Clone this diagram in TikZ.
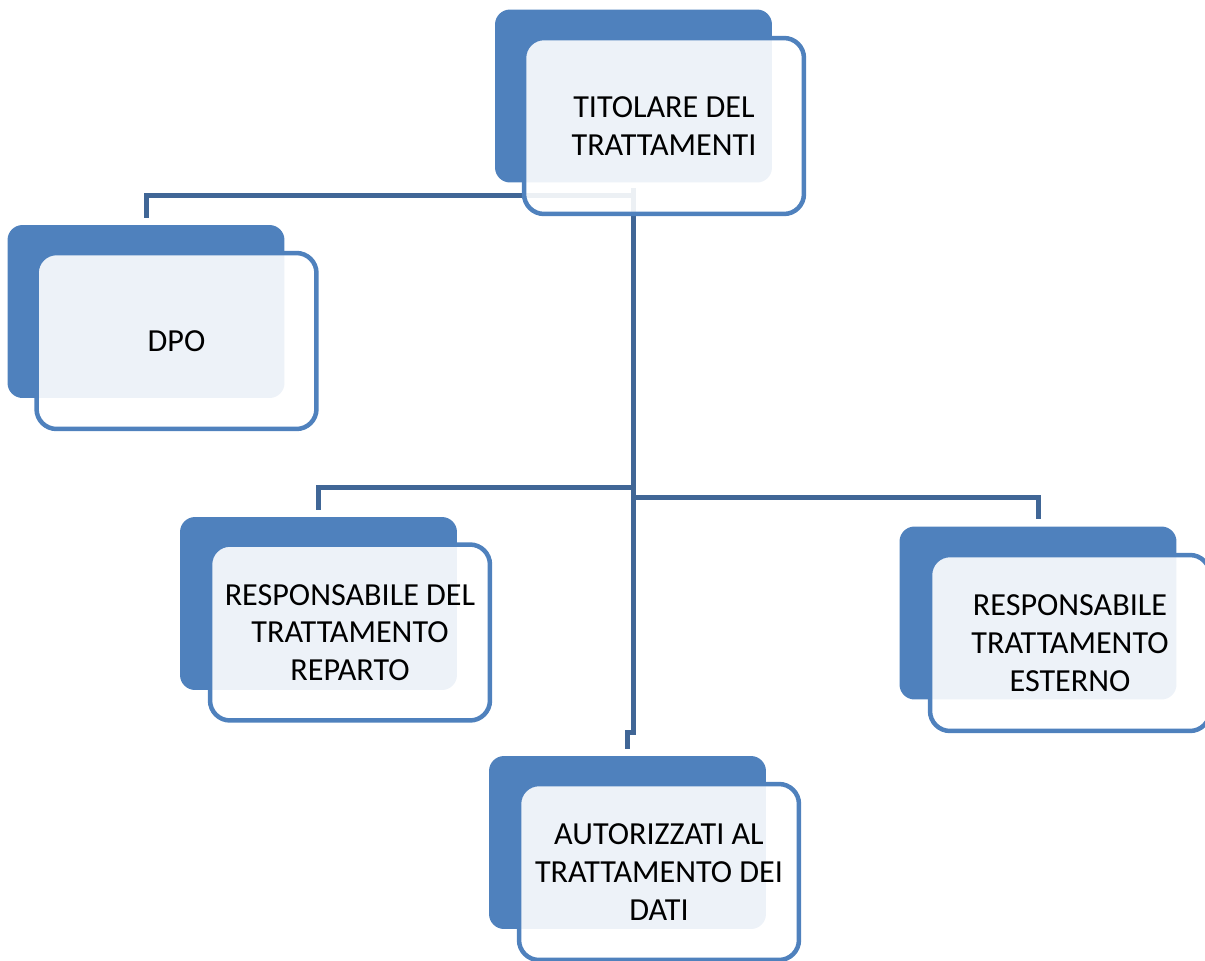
\documentclass[tikz,border=0pt]{standalone}
\usepackage{fontspec}
\setmainfont{Carlito}
\usepackage{tikz}
\usetikzlibrary{positioning,calc}

\definecolor{boxblue}{RGB}{79,129,189}
\definecolor{linkblue}{RGB}{64,102,150}

\begin{document}
\begin{tikzpicture}[x=0.02cm,y=-0.02cm,
	backbox/.style={fill=boxblue,rounded corners=0.3cm,minimum width=5.54cm,minimum height=3.46cm,inner sep=0pt},
	frontbox/.style={draw=boxblue,line width=0.09cm,fill=white,fill opacity=0.9,text opacity=1,rounded corners=0.4cm,minimum width=5.6cm,minimum height=3.52cm,inner sep=0pt,align=center,font=\fontsize{18.3}{21.5}\selectfont},
	link/.style={draw=linkblue,line width=0.1cm}]
			\useasboundingbox (0,0) rectangle (1205,961);
			
			\node[backbox] (titB) at (633.5, 96) {};
			\node[backbox] (dpoB) at (146, 311.5) {};
			\node[backbox] (repB) at (318.5, 603.5) {};
			\node[backbox] (estB) at (1038, 613) {};
			\node[backbox] (autB) at (627.5, 842.5) {};
			
			\coordinate (hubL) at (633, 487);
			\coordinate (hubR) at (633, 497);
			\coordinate (jog) at (633, 727);
			
			\draw[link] ([yshift=-0.26cm]titB.south) -| ([yshift=0.14cm]dpoB.north);
			\draw[link] ([yshift=-0.1cm]titB.south) -- ([yshift=-0.1cm]titB.south |- jog) -| ([yshift=0.14cm]autB.north);
			\draw[link] (hubL) -| ([yshift=0.14cm]repB.north);
			\draw[link] (hubR) -| ([yshift=0.14cm]estB.north);
			
			\node[frontbox] (tit) at (664, 126) {TITOLARE DEL\\TRATTAMENTI};
			\node[frontbox] (dpo) at (176.5, 341) {DPO};
			\node[frontbox] (rep) at (350, 632.5) {RESPONSABILE DEL\\TRATTAMENTO\\REPARTO};
			\node[frontbox] (est) at (1070, 643) {RESPONSABILE\\TRATTAMENTO\\ESTERNO};
			\node[frontbox] (aut) at (659, 872) {AUTORIZZATI AL\\TRATTAMENTO DEI\\DATI};
			
\end{tikzpicture}
\end{document}
